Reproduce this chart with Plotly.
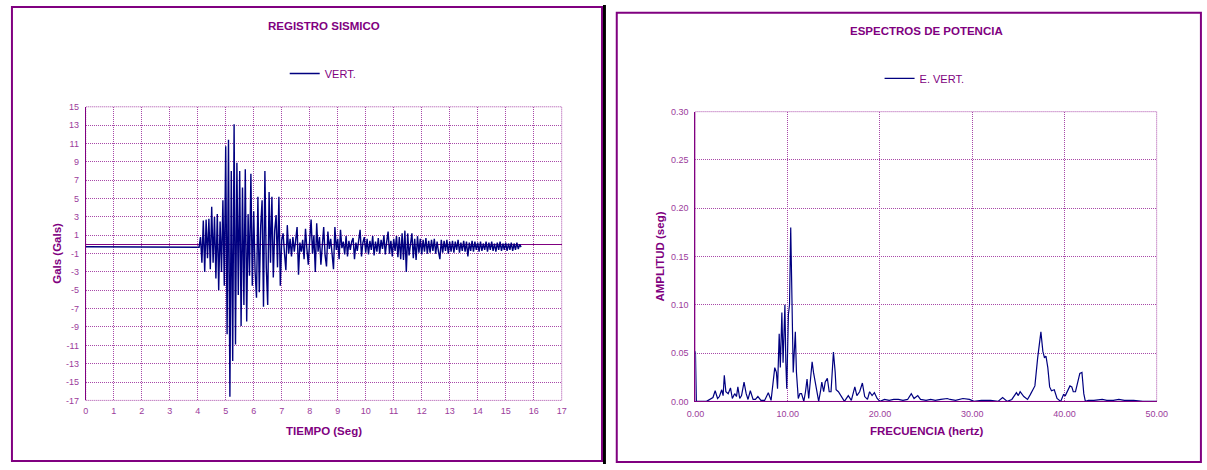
import plotly.graph_objects as go

W, H = 1207, 470

# ---------------- data: seismic record (VERT.) ----------------
pre_time = [0.0, 4.0]
pre_gals = [-0.25, -0.25]
rec_t0 = 4.05
rec_dt = 0.05
rec_gals = [
    -0.3, 0.8, -2.0, 2.6, -3.0, 2.7, -1.5, 2.8, -2.7, 4.1, -2.0, 3.0, -3.7, 3.3, -5.0, 2.5, -3.0, 4.8, -4.5, 10.7,
    -9.8, 11.4, -16.6, 8.0, -12.7, 13.1, -10.9, 8.9, -5.5, 8.0, -8.9, 6.2, -6.6, 8.2, -8.4, 3.3, -3.4, 7.7, -4.5, 3.6,
    -3.0, -5.8, 5.2, -5.2, 2.0, 4.8, -6.8, 8.0, -2.5, -6.6, 5.7, -2.0, 5.2, -3.6, 1.5, 3.2, -2.5, 5.2, -4.5, 0.5,
    1.2, -1.0, -2.8, 2.1, -1.0, 0.6, -1.3, 0.8, -0.8, 0.5, 1.9, -3.3, 0.2, -0.8, 0.5, -1.6, 1.7, -0.5, -2.2, 0.5,
    2.7, -1.0, 1.0, -3.0, 2.3, -0.8, 0.8, -2.2, 0.5, 1.9, -1.2, -2.4, 1.4, -0.5, 0.6, -1.5, -2.7, 1.9, -0.6, 0.6,
    -1.6, 1.6, -0.4, 0.3, -1.1, 0.9, -1.3, 0.4, -0.6, 0.3, 0.7, -1.6, 0.2, -0.7, 0.5, 1.6, -1.3, 0.2, 0.8, -0.9,
    0.6, -1.1, 0.4, -0.6, 0.9, -1.2, 0.3, -0.8, 0.7, -1.0, 0.5, -0.5, 1.0, -1.1, 0.3, 1.4, -1.0, 0.4, -1.3, 0.6,
    -0.7, 0.9, -1.4, 0.8, -1.6, 1.2, -1.7, 1.5, -3.0, 1.2, -1.2, 0.4, 1.2, -1.5, 0.6, -1.7, 0.9, -0.9, 0.6, -1.1,
    0.5, -0.8, 0.7, -1.0, 0.4, -0.9, 0.5, -0.7, 0.6, -1.0, 0.3, -0.8, -1.6, 0.5, -0.9, 0.4, -0.7, 0.5, -1.0, 0.3,
    -0.8, 0.4, -0.9, 0.3, -0.6, 0.5, -0.9, 0.2, -0.7, 0.4, -0.8, 0.3, -1.3, 0.2, -0.7, 0.4, -0.8, 0.3, -0.6, 0.2,
    -0.8, 0.3, -0.7, 0.1, -0.6, 0.3, -0.8, 0.2, -0.6, 0.3, -0.7, 0.1, -0.8, 0.2, -0.6, 0.3, -0.7, 0.1, -0.6, 0.2,
    -0.7, 0.1, -0.6, 0.2, -0.7, 0.1, -0.6, 0.2, -0.5, 0.0, -0.3,
]

# ---------------- data: power spectrum (E. VERT.) ----------------
freq_hz = [
    0.0, 0.1, 1.2, 1.6, 1.9, 2.14, 2.4, 2.6, 2.85, 3.0, 3.13, 3.3, 3.55, 3.8, 4.0, 4.25, 4.45, 4.6, 4.8, 5.0,
    5.27, 5.5, 5.7, 5.95, 6.25, 6.5, 6.77, 7.1, 7.5, 7.9, 8.2, 8.6, 8.78, 8.9, 9.08, 9.2, 9.37, 9.5, 9.7, 9.8,
    9.9, 10.08, 10.2, 10.33, 10.44, 10.6, 10.83, 10.95, 11.15, 11.33, 11.5, 11.75, 11.93, 12.1, 12.28, 12.65, 12.8, 13.0, 13.2, 13.36,
    13.55, 13.7, 13.9, 14.07, 14.3, 14.5, 14.7, 14.96, 15.15, 15.25, 15.5, 15.85, 16.15, 16.57, 16.9, 17.28, 17.5, 17.8, 18.1, 18.35,
    18.65, 18.88, 19.15, 19.4, 19.7, 20.0, 20.5, 21.0, 21.5, 22.0, 22.5, 23.0, 23.4, 23.7, 24.1, 24.4, 25.0, 25.5, 26.0, 26.6,
    27.3, 27.6, 28.2, 29.0, 29.7, 30.2, 31.0, 32.0, 32.8, 33.3, 33.8, 34.3, 34.8, 35.0, 35.2, 35.6, 36.0, 36.3, 36.8, 37.1,
    37.45, 37.66, 37.84, 38.0, 38.2, 38.4, 38.6, 38.9, 39.2, 39.6, 39.9, 40.1, 40.3, 40.6, 40.8, 40.96, 41.2, 41.45, 41.67, 41.9,
    42.1, 42.27, 42.6, 43.2, 44.1, 44.6, 45.3, 45.9, 46.5, 47.5, 48.5, 50.0,
]
amplitude = [
    0.052, 0.0, 0.0, 0.002, 0.004, 0.011, 0.003, 0.005, 0.012, 0.006, 0.027, 0.01, 0.008, 0.014, 0.003, 0.008, 0.005, 0.015, 0.003, 0.006,
    0.02, 0.008, 0.002, 0.011, 0.002, 0.002, 0.005, 0.001, 0.001, 0.009, 0.001, 0.035, 0.03, 0.013, 0.07, 0.035, 0.092, 0.04, 0.1, 0.04,
    0.013, 0.09, 0.1, 0.18, 0.12, 0.03, 0.072, 0.03, 0.003, 0.008, 0.008, 0.0, 0.01, 0.023, 0.003, 0.041, 0.03, 0.02, 0.01, 0.0,
    0.01, 0.02, 0.01, 0.02, 0.024, 0.01, 0.01, 0.051, 0.03, 0.012, 0.01, 0.004, 0.0, 0.006, 0.001, 0.015, 0.006, 0.01, 0.019, 0.005,
    0.002, 0.01, 0.006, 0.009, 0.003, 0.0, 0.002, 0.001, 0.002, 0.002, 0.001, 0.002, 0.008, 0.003, 0.006, 0.002, 0.001, 0.002, 0.001, 0.002,
    0.003, 0.002, 0.001, 0.003, 0.002, 0.0, 0.001, 0.001, 0.0, 0.004, 0.0, 0.002, 0.009, 0.006, 0.01, 0.005, 0.002, 0.007, 0.016, 0.045,
    0.072, 0.052, 0.045, 0.047, 0.035, 0.015, 0.011, 0.012, 0.003, 0.0, 0.007, 0.006, 0.01, 0.016, 0.015, 0.01, 0.01, 0.02, 0.029, 0.03,
    0.008, 0.0, 0.001, 0.001, 0.002, 0.001, 0.001, 0.002, 0.001, 0.001, 0.0, 0.0,
]

# ---------------- ticks ----------------
t_tickvals = list(range(0, 18))
t_ticktext = [str(v) for v in t_tickvals]
g_tickvals = [15, 13, 11, 9, 7, 5, 3, 1, -1, -3, -5, -7, -9, -11, -13, -15, -17]
g_ticktext = ["15", "13", "11", "9", "7", "5", "3", "1", "-1", "-3", "-5", "-7", "-9", "-11", "-13", "-15", "-17"]
f_tickvals = [0, 10, 20, 30, 40, 50]
f_ticktext = ["0.00", "10.00", "20.00", "30.00", "40.00", "50.00"]
a_tickvals = [0, 0.05, 0.10, 0.15, 0.20, 0.25, 0.30]
a_ticktext = ["0.00", "0.05", "0.10", "0.15", "0.20", "0.25", "0.30"]

rec_time = pre_time + [rec_t0 + i * rec_dt for i in range(len(rec_gals))]
rec_vals = pre_gals + rec_gals

# ---------------- styling ----------------
FONT = "Liberation Sans, Arial, sans-serif"
PURPLE = "#800080"
TICKC = "#9B3B9B"
GRID = "#A848A8"
NAVY = "#000080"


def fx(px):
    return px / W


def fy(py):
    return 1 - py / H


fig = go.Figure()
fig.add_trace(go.Scatter(x=rec_time, y=rec_vals, mode="lines", name="VERT.",
                         line=dict(color=NAVY, width=1.4), xaxis="x", yaxis="y", legend="legend"))
fig.add_trace(go.Scatter(x=freq_hz, y=amplitude, mode="lines", name="E. VERT.",
                         line=dict(color=NAVY, width=1.2), xaxis="x2", yaxis="y2", legend="legend2"))

axis_common = dict(showgrid=True, gridcolor=GRID, gridwidth=1, griddash="1px,1px", ticks="",
                   tickfont=dict(family=FONT, size=9, color=TICKC), fixedrange=True)

fig.update_layout(
    width=W, height=H,
    margin=dict(l=0, r=0, t=0, b=0),
    paper_bgcolor="white", plot_bgcolor="white",
    font=dict(family=FONT),
    xaxis=dict(domain=[fx(78), fx(562)], range=[0, 17], tickmode="array",
               tickvals=t_tickvals, ticktext=t_ticktext, zeroline=False, showline=False,
               anchor="y", ticklabelstandoff=4, **axis_common),
    yaxis=dict(domain=[fy(404), fy(104)], range=[-17, 15], tickmode="array",
               tickvals=g_tickvals, ticktext=g_ticktext, zeroline=True, zerolinecolor=PURPLE,
               zerolinewidth=1, showline=True, linecolor=PURPLE, linewidth=1,
               anchor="x", ticklabelstandoff=4, **axis_common),
    xaxis2=dict(domain=[fx(698), fx(1167)], range=[0, 50], tickmode="array",
                tickvals=f_tickvals, ticktext=f_ticktext, zeroline=False, showline=True,
                linecolor=PURPLE, linewidth=1, anchor="y2", ticklabelstandoff=4, **axis_common),
    yaxis2=dict(domain=[fy(405), fy(109)], range=[0, 0.30], tickmode="array",
                tickvals=a_tickvals, ticktext=a_ticktext, zeroline=False, showline=True,
                linecolor=PURPLE, linewidth=1, anchor="x2", ticklabelstandoff=4, **axis_common),
    legend=dict(x=fx(319), y=fy(70), xanchor="center", yanchor="middle",
                orientation="h", bgcolor="rgba(0,0,0,0)", borderwidth=0,
                font=dict(family=FONT, size=11, color=PURPLE)),
    legend2=dict(x=fx(931), y=fy(75), xanchor="center", yanchor="middle",
                 orientation="h", bgcolor="rgba(0,0,0,0)", borderwidth=0,
                 font=dict(family=FONT, size=11, color=PURPLE)),
    showlegend=True,
)

# plot-area borders (dotted-grid look)
for xr, yr in (("x domain", "y domain"), ("x2 domain", "y2 domain")):
    fig.add_shape(type="rect", xref=xr, yref=yr, x0=0, x1=1, y0=0, y1=1,
                  line=dict(color=GRID, width=1, dash="1px,1px"), layer="below")

# panel frames
fig.add_shape(type="rect", xref="paper", yref="paper", x0=fx(3), x1=fx(603), y0=fy(466), y1=fy(2),
              line=dict(color=PURPLE, width=2))
fig.add_shape(type="rect", xref="paper", yref="paper", x0=fx(604), x1=fx(607), y0=fy(469), y1=fy(0),
              line=dict(width=0), fillcolor="black")
fig.add_shape(type="rect", xref="paper", yref="paper", x0=fx(618), x1=fx(1212), y0=fy(467), y1=fy(8),
              line=dict(color=PURPLE, width=2))

bold = dict(family=FONT, size=11.5, color=PURPLE, weight="bold")
annos = [
    ("REGISTRO SISMICO", 320, 21, 0),
    ("ESPECTROS DE POTENCIA", 932.5, 27, 0),
    ("TIEMPO (Seg)", 320, 435, 0),
    ("FRECUENCIA (hertz)", 932.5, 435, 0),
    ("Gals (Gals)", 48, 254, -90),
    ("AMPLITUD (seg)", 662, 257, -90),
]
for text, px, py, ang in annos:
    fig.add_annotation(text=text, x=fx(px), y=fy(py), xref="paper", yref="paper",
                       showarrow=False, xanchor="center", yanchor="middle",
                       textangle=ang, font=bold)

fig.write_html(
    "out.html",
    config={"displayModeBar": False},
    post_script="document.body.style.margin='0';document.body.style.overflow='hidden';",
)
